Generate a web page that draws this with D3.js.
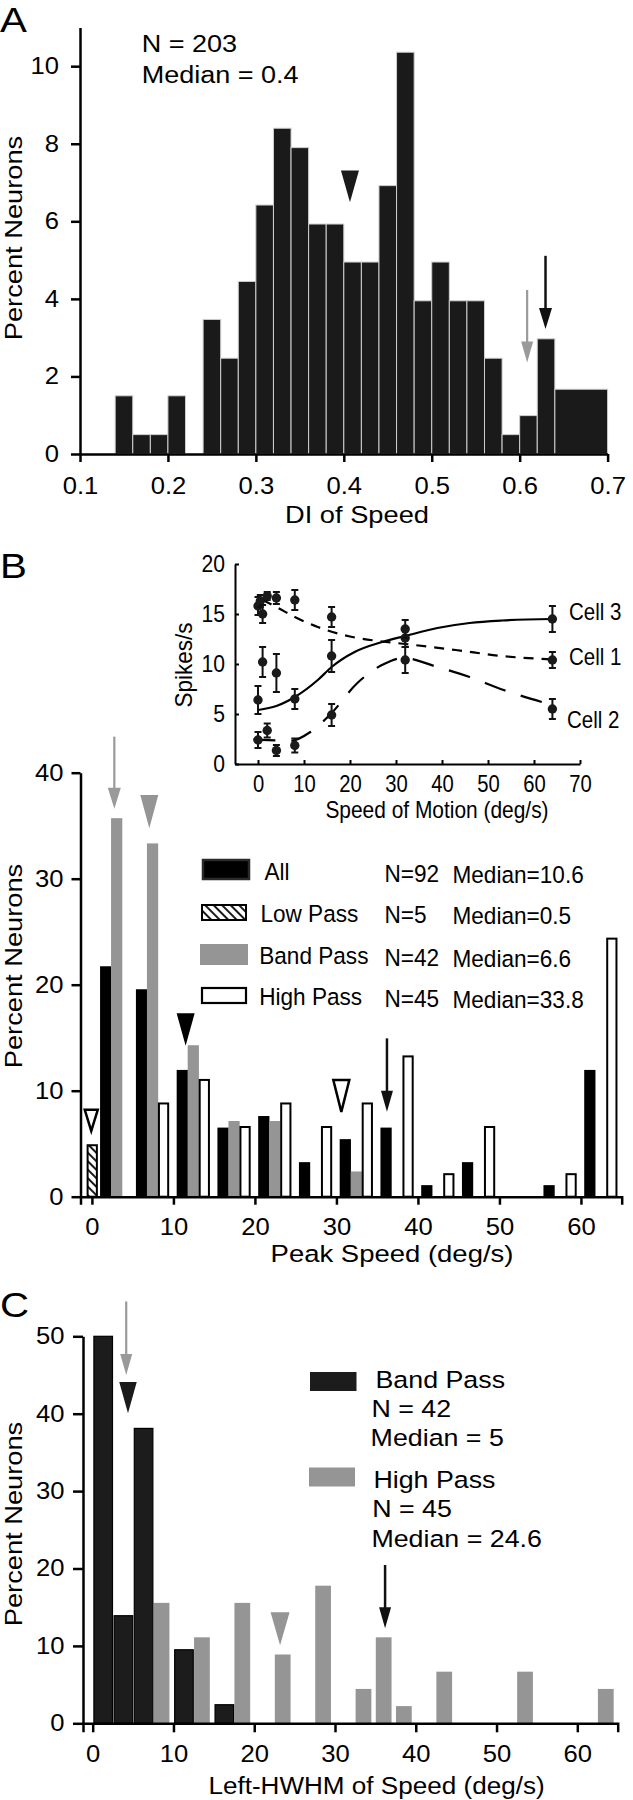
<!DOCTYPE html>
<html><head><meta charset="utf-8">
<script src="https://cdn.jsdelivr.net/npm/d3@7"></script>
<style>
body{margin:0;background:#fff}
svg text{font-family:"Liberation Sans",Arial,Helvetica,sans-serif;fill:#000}
</style>
</head><body>
<svg id="c" width="633" height="1800"></svg>
<script>
// ---------------- DATA ----------------
// Panel A: DI of speed histogram
const diBinLo = [0.14,0.16,0.18,0.20,0.22,0.24,0.26,0.28,0.30,0.32,0.34,0.36,0.38,0.40,0.42,0.44,0.46,0.48,0.50,0.52,0.54,0.56,0.58,0.60,0.62,0.64];
const diBinHi = [0.16,0.18,0.20,0.22,0.24,0.26,0.28,0.30,0.32,0.34,0.36,0.38,0.40,0.42,0.44,0.46,0.48,0.50,0.52,0.54,0.56,0.58,0.60,0.62,0.64,0.70];
const diPct   = [1.5,0.5,0.5,1.5,0,3.47,2.47,4.45,6.42,8.4,7.9,5.93,5.93,4.95,4.95,6.92,10.36,3.95,4.95,3.95,3.95,2.47,0.5,0.99,2.97,1.67];
const diTicks = [0.1,0.2,0.3,0.4,0.5,0.6,0.7];
const diPctTicks = [0,2,4,6,8,10];
const diMedian = 0.407, diGrayArrow = 0.6085, diBlackArrow = 0.6294;

// Panel B inset: tuning curves of three cells
const cell1Speed = [0,0.5,1,2,4,8,16,32,64];
const cell1Rate  = [15.8,16.3,15.0,16.8,16.6,16.4,14.7,12.6,10.4];
const cell1Err   = [0.9,0.6,0.9,0.4,0.6,1.0,1.0,0.9,0.8];
const cell2Speed = [0,2,4,8,16,32,64];
const cell2Rate  = [2.4,3.35,1.35,1.85,4.9,10.4,5.5];
const cell2Err   = [0.8,0.7,0.55,0.7,1.1,1.3,1.0];
const cell3Speed = [0,1,4,8,16,32,64];
const cell3Rate  = [6.4,10.2,9.1,6.5,10.8,13.5,14.5];
const cell3Err   = [1.4,1.5,1.9,1.0,1.6,0.9,1.3];
const cell1FitX = [1,4,8,13,20,27,32,43,53,64];
const cell1FitY = [16.4,15.7,14.7,13.7,12.75,12.25,12.0,11.4,10.8,10.45];
const cell2FitX = [-1,4,7,11.4,16,21.6,27.4,31.6,39,46,53.4,64];
const cell2FitY = [2.45,2.35,2.3,3.2,5.1,8.1,10.0,10.6,9.7,8.7,7.4,5.9];
const cell3FitX = [0,4,8,13,16,21,27,32,39,46,53,64];
const cell3FitY = [5.4,5.8,6.7,8.4,9.7,11.2,12.2,12.8,13.6,14.1,14.35,14.5];
const insetXTicks = [0,10,20,30,40,50,60,70];
const insetYTicks = [0,5,10,15,20];

// Panel B: peak speed histogram
const peakBins = [0,5,10,15,20,25,30,35,40,45,50,55,60];
const lowPct  = [4.95,0,0,0,0,0,0,0,0,0,0,0,0];
const allPct  = [21.74,19.57,11.96,6.52,7.61,3.26,5.43,6.52,1.09,3.26,0,1.09,11.96];
const bandPct = [35.71,33.33,14.29,7.14,7.14,0,2.38,0,0,0,0,0,0];
const highPct = [0,8.89,11.11,6.67,8.89,6.67,8.89,13.33,2.22,6.67,0,2.22,24.44];
const peakTicks = [0,10,20,30,40,50,60];
const peakPctTicks = [0,10,20,30,40];
const legendNames = ["All","Low Pass","Band Pass","High Pass"];
const legendN = ["N=92","N=5","N=42","N=45"];
const legendMedian = ["Median=10.6","Median=0.5","Median=6.6","Median=33.8"];

// Panel C: left-HWHM histogram
const hwhmBandLo = [0,2.5,5,10,15];
const hwhmBandPct = [50,13.9,38.1,9.5,2.4];
const hwhmHighLo = [7.5,12.5,17.5,22.5,27.5,32.5,35,37.5,42.5,52.5,62.5];
const hwhmHighPct = [15.56,11.11,15.56,8.89,17.78,4.44,11.11,2.22,6.67,6.67,4.44];
const hwhmTicks = [0,10,20,30,40,50,60];
const hwhmPctTicks = [0,10,20,30,40,50];

// ---------------- DRAW ----------------
const svg = d3.select("#c");
svg.append("rect").attr("width",633).attr("height",1800).attr("fill","#fff");
const defs = svg.append("defs");
const pat = defs.append("pattern").attr("id","hatch").attr("patternUnits","userSpaceOnUse")
  .attr("width",6).attr("height",6).attr("patternTransform","rotate(-45)");
pat.append("rect").attr("width",6).attr("height",6).attr("fill","#fff");
pat.append("line").attr("x1",3).attr("y1",0).attr("x2",3).attr("y2",6).attr("stroke","#000").attr("stroke-width",1.8);

const GRAY = "#959595";

function txt(g, x, y, s, o) {
  o = Object.assign({size:23.3, sx:1.15, anchor:"start", rotate:0, fill:"#000"}, o||{});
  return g.append("text")
    .attr("transform", `translate(${x},${y}) rotate(${o.rotate}) scale(${o.sx},1)`)
    .attr("text-anchor", o.anchor).attr("font-size", o.size).attr("fill", o.fill).text(s);
}
function styleAxis(g, o) {
  g.attr("font-size", null).attr("font-family", null);
  g.selectAll("path.domain").attr("stroke","#000").attr("stroke-width",o.w);
  g.selectAll(".tick line").attr("stroke","#000").attr("stroke-width",o.w);
  const t = g.selectAll(".tick text").attr("font-size",o.size).attr("fill","#000")
    .attr("transform",`scale(${o.sx},1)`);
  if (o.left) t.attr("x", -o.offset/o.sx);
}
function downTri(g, cx, yTop, yTip, w, fill, stroke, sw) {
  g.append("path").attr("d",`M${cx-w/2},${yTop}L${cx+w/2},${yTop}L${cx},${yTip}Z`)
    .attr("fill",fill).attr("stroke",stroke||"none").attr("stroke-width",sw||0)
    .attr("stroke-linejoin","miter");
}
function arrow(g, x, yTop, yTip, head, hw, color, lw) {
  g.append("line").attr("x1",x).attr("x2",x).attr("y1",yTop).attr("y2",yTip-head*0.5)
    .attr("stroke",color).attr("stroke-width",lw);
  downTri(g, x, yTip-head, yTip, hw, color);
}

// ===== Panel A =====
const gA = svg.append("g");
const xA = d3.scaleLinear().domain([0.1,0.7]).range([80,607.6]);
const yA = d3.scaleLinear().domain([0,11]).range([454,27.4]);
gA.selectAll("rect.bar").data(diPct).join("rect")
  .attr("x",(d,i)=>xA(diBinLo[i])).attr("width",(d,i)=>xA(diBinHi[i])-xA(diBinLo[i]))
  .attr("y",d=>yA(d)).attr("height",d=>yA(0)-yA(d))
  .attr("fill","#1a1a1a").attr("stroke","#cfcfcf").attr("stroke-width",1)
  .style("display",d=>d>0?null:"none");
const axAx = gA.append("g").attr("transform","translate(0,454)")
  .call(d3.axisBottom(xA).tickValues(diTicks).tickFormat(d3.format(".1f")).tickSize(8).tickSizeOuter(0).tickPadding(15));
styleAxis(axAx,{w:2.5,size:23.3,sx:1.1});
const ayA = gA.append("g").attr("transform","translate(80,0)")
  .call(d3.axisLeft(yA).tickValues(diPctTicks).tickSize(9).tickSizeOuter(0));
styleAxis(ayA,{w:2.5,size:23.3,sx:1.1,left:true,offset:21});
txt(gA, 0, 31.7, "A", {size:35, sx:1.15});
txt(gA, 141.7, 51.7, "N = 203", {sx:1.16});
txt(gA, 141.7, 83.3, "Median = 0.4", {sx:1.16});
txt(gA, 357, 523, "DI of Speed", {anchor:"middle", sx:1.17});
txt(gA, 21.7, 238, "Percent Neurons", {anchor:"middle", sx:1.17, rotate:-90});
downTri(gA, xA(diMedian), yA(7.31), yA(6.49), 18, "#1a1a1a");
arrow(gA, xA(diGrayArrow), yA(4.23), yA(2.36), 21, 12, "#9a9a9a", 2.2);
arrow(gA, xA(diBlackArrow), yA(5.11), yA(3.22), 21, 13, "#111", 2.5);

// ===== Panel B inset =====
const gI = svg.append("g");
const xI = d3.scaleLinear().domain([-5,70]).range([235,580]);
const yI = d3.scaleLinear().domain([0,20]).range([764,564]);
const axI = gI.append("g").attr("transform","translate(0,764)")
  .call(d3.axisBottom(xI).tickValues(insetXTicks).tickSize(-4).tickSizeOuter(0).tickPadding(11.5));
styleAxis(axI,{w:2,size:23,sx:0.88});
const ayI = gI.append("g").attr("transform","translate(235,0)")
  .call(d3.axisLeft(yI).tickValues(insetYTicks).tickSize(-4).tickSizeOuter(0));
styleAxis(ayI,{w:2,size:23,sx:0.92,left:true,offset:10});
txt(gI, 192, 665, "Spikes/s", {anchor:"middle", sx:0.98, size:23, rotate:-90});
txt(gI, 437, 818, "Speed of Motion (deg/s)", {anchor:"middle", sx:0.91, size:23});
const fitLine = d3.line().curve(d3.curveMonotoneX).x(d=>xI(d[0])).y(d=>yI(d[1]));
const fits = [
  {x:cell3FitX, y:cell3FitY, dash:null},
  {x:cell1FitX, y:cell1FitY, dash:"10,8"},
  {x:cell2FitX, y:cell2FitY, dash:"22,16"}
];
fits.forEach(f=>{
  gI.append("path").attr("d", fitLine(f.x.map((v,i)=>[v,f.y[i]])))
    .attr("fill","none").attr("stroke","#000").attr("stroke-width",2.2)
    .attr("stroke-dasharray",f.dash);
});
const cells = [
  {s:cell1Speed, r:cell1Rate, e:cell1Err},
  {s:cell2Speed, r:cell2Rate, e:cell2Err},
  {s:cell3Speed, r:cell3Rate, e:cell3Err}
];
cells.forEach(c=>{
  c.s.forEach((sp,i)=>{
    const x = xI(sp), y0 = yI(c.r[i]-c.e[i]), y1 = yI(c.r[i]+c.e[i]);
    gI.append("line").attr("x1",x).attr("x2",x).attr("y1",y0).attr("y2",y1).attr("stroke","#111").attr("stroke-width",2);
    gI.append("line").attr("x1",x-3.5).attr("x2",x+3.5).attr("y1",y0).attr("y2",y0).attr("stroke","#111").attr("stroke-width",2);
    gI.append("line").attr("x1",x-3.5).attr("x2",x+3.5).attr("y1",y1).attr("y2",y1).attr("stroke","#111").attr("stroke-width",2);
    gI.append("circle").attr("cx",x).attr("cy",yI(c.r[i])).attr("r",4.7).attr("fill","#1a1a1a");
  });
});
txt(gI, 569, 620, "Cell 3", {size:23.3, sx:0.88});
txt(gI, 569, 665, "Cell 1", {size:23.3, sx:0.88});
txt(gI, 567, 728, "Cell 2", {size:23.3, sx:0.88});

// ===== Panel B main =====
const gB = svg.append("g");
const xB = d3.scaleLinear().domain([-1.4,65]).range([80.5,621.7]);
const yB = d3.scaleLinear().domain([0,40]).range([1196.7,772.7]);
const barW = 1.38;
const series = [
  {v:lowPct, off:-0.65, fill:"url(#hatch)", stroke:"#000", sw:2},
  {v:allPct, off:0.4, fill:"#000", stroke:"none", sw:0},
  {v:bandPct, off:1.75, fill:GRAY, stroke:"none", sw:0},
  {v:highPct, off:3.1, fill:"#fff", stroke:"#000", sw:2}
];
series.forEach((s,si)=>{
  gB.append("g").selectAll("rect").data(s.v).join("rect")
    .attr("x",(d,i)=>xB(peakBins[i]+s.off+(i===0&&(si===1||si===2)?0.6:0)) + s.sw/2)
    .attr("width",xB(barW)-xB(0)-s.sw)
    .attr("y",d=>yB(d)+s.sw/2).attr("height",d=>Math.max(0,yB(0)-yB(d)-s.sw/2))
    .attr("fill",s.fill).attr("stroke",s.stroke).attr("stroke-width",s.sw)
    .style("display",d=>d>0?null:"none");
});
const axB = gB.append("g").attr("transform","translate(0,1196.7)")
  .call(d3.axisBottom(xB).tickValues(peakTicks).tickFormat(d3.format("d")).tickSize(8).tickSizeOuter(8).tickPadding(14));
styleAxis(axB,{w:2.5,size:23.3,sx:1.1});
const ayB = gB.append("g").attr("transform","translate(80.5,0)")
  .call(d3.axisLeft(yB).tickValues(peakPctTicks).tickSize(9).tickSizeOuter(0));
styleAxis(ayB,{w:2.5,size:23.3,sx:1.1,left:true,offset:17});
txt(gB, 0, 578, "B", {size:35, sx:1.15});
txt(gB, 392, 1262, "Peak Speed (deg/s)", {anchor:"middle", sx:1.18});
txt(gB, 22, 966, "Percent Neurons", {anchor:"middle", sx:1.17, rotate:-90});
// legend
const lg = gB.append("g");
lg.append("rect").attr("x",203).attr("y",860).attr("width",46).attr("height",19).attr("fill","#000").attr("stroke","#2a2a2a").attr("stroke-width",2.5);
lg.append("rect").attr("x",202).attr("y",905).attr("width",44).attr("height",15).attr("fill","url(#hatch)").attr("stroke","#000").attr("stroke-width",2);
lg.append("rect").attr("x",200).attr("y",944).attr("width",48).attr("height",21).attr("fill",GRAY);
lg.append("rect").attr("x",202).attr("y",988).attr("width",44).attr("height",15).attr("fill","#fff").attr("stroke","#000").attr("stroke-width",2.2);
const lgY = [880,921.7,964.3,1005];
const lgX = [264.4,260.4,259.2,259.2];
legendNames.forEach((n,i)=>{
  txt(lg, lgX[i], lgY[i], n, {sx:0.97});
  txt(lg, 384.5, lgY[i]+1.5, legendN[i], {sx:0.97});
  txt(lg, 452.5, lgY[i]+2.5, legendMedian[i], {sx:0.97});
});
// markers
arrow(gB, xB(2.75), yB(43.4), yB(36.6), 21, 13, "#9a9a9a", 2.2);
downTri(gB, xB(7.04), yB(37.9), yB(34.75), 18, GRAY);
downTri(gB, xB(11.5), yB(17.3), yB(14.25), 18, "#000");
downTri(gB, xB(-0.08), yB(8.2), yB(6.2), 13, "#fff", "#000", 2.5);
downTri(gB, xB(30.6), yB(11.0), yB(8.0), 16, "#fff", "#000", 2.5);
arrow(gB, xB(36.2), yB(14.94), yB(8.02), 21, 12, "#111", 2.5);

// ===== Panel C =====
const gC = svg.append("g");
const xC = d3.scaleLinear().domain([-1.2,65]).range([83,617.7]);
const yC = d3.scaleLinear().domain([0,50]).range([1723.3,1336.3]);
gC.append("g").selectAll("rect").data(hwhmHighPct).join("rect")
  .attr("x",(d,i)=>xC(hwhmHighLo[i]+0.05)).attr("width",xC(1.95)-xC(0))
  .attr("y",d=>yC(d)).attr("height",d=>yC(0)-yC(d)).attr("fill",GRAY);
gC.append("g").selectAll("rect").data(hwhmBandPct).join("rect")
  .attr("x",(d,i)=>xC(hwhmBandLo[i]+0.15)).attr("width",xC(2.3)-xC(0))
  .attr("y",d=>yC(d)).attr("height",d=>yC(0)-yC(d))
  .attr("fill","#1c1c1c").attr("stroke","#000").attr("stroke-width",1.2);
const axC = gC.append("g").attr("transform","translate(0,1723.3)")
  .call(d3.axisBottom(xC).tickValues(hwhmTicks).tickFormat(d3.format("d")).tickSize(9).tickSizeOuter(9).tickPadding(13.5));
styleAxis(axC,{w:2.5,size:23.3,sx:1.1});
const ayC = gC.append("g").attr("transform","translate(83,0)")
  .call(d3.axisLeft(yC).tickValues(hwhmPctTicks).tickSize(10).tickSizeOuter(0));
styleAxis(ayC,{w:2.5,size:23.3,sx:1.1,left:true,offset:18.5});
txt(gC, 0, 1317, "C", {size:35, sx:1.15});
txt(gC, 376.5, 1794, "Left-HWHM of Speed (deg/s)", {anchor:"middle", sx:1.12});
txt(gC, 22, 1524, "Percent Neurons", {anchor:"middle", sx:1.17, rotate:-90});
gC.append("rect").attr("x",310).attr("y",1372).attr("width",46.5).attr("height",19).attr("fill","#1c1c1c");
gC.append("rect").attr("x",309).attr("y",1467.5).attr("width",46).attr("height",19).attr("fill",GRAY);
txt(gC, 375.5, 1388.3, "Band Pass", {sx:1.15});
txt(gC, 371.4, 1416.7, "N = 42", {sx:1.15});
txt(gC, 370.6, 1445.7, "Median = 5", {sx:1.15});
txt(gC, 373.4, 1488.3, "High Pass", {sx:1.15});
txt(gC, 372.2, 1516.7, "N = 45", {sx:1.15});
txt(gC, 371.4, 1546.7, "Median = 24.6", {sx:1.15});
arrow(gC, xC(4.15), yC(54.5), yC(45.0), 21, 12, "#9a9a9a", 2.2);
downTri(gC, xC(4.37), yC(44.1), yC(40.05), 17.5, "#1a1a1a");
downTri(gC, xC(23.2), yC(14.34), yC(10.1), 19, GRAY);
arrow(gC, xC(36.2), yC(20.45), yC(12.27), 21, 12, "#111", 2.5);
</script>
</body></html>
